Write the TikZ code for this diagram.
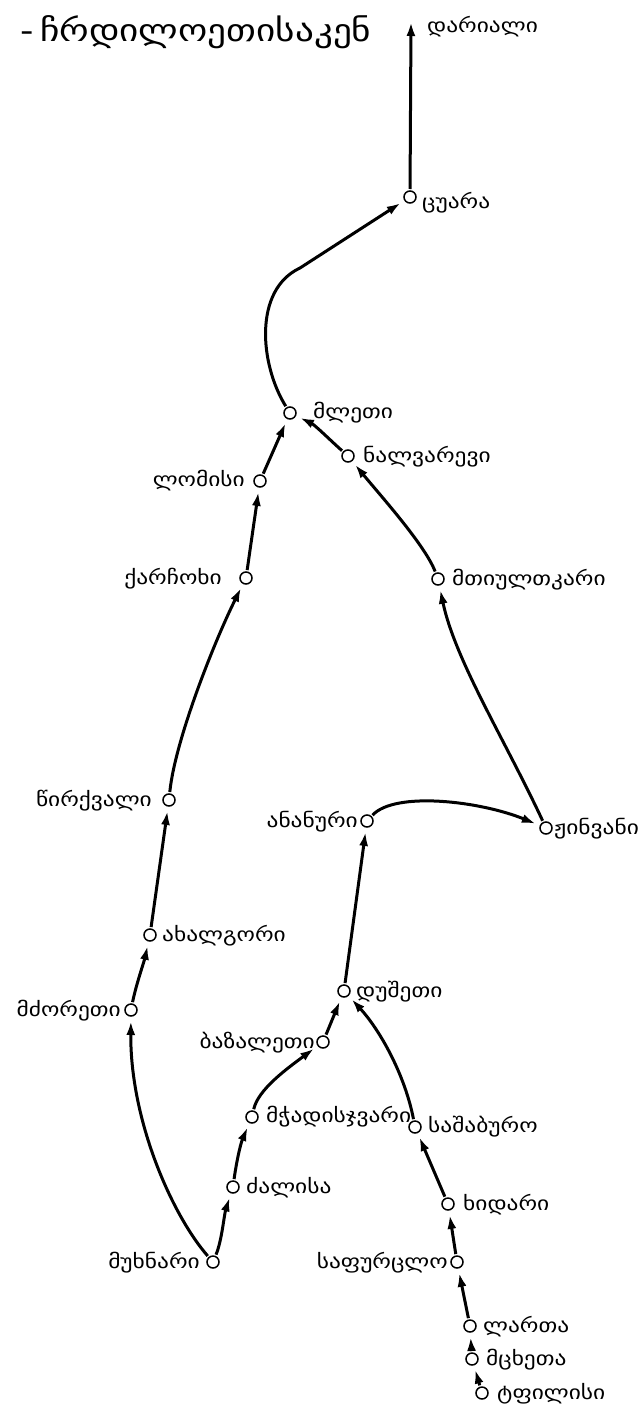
\documentclass[tikz,border=0pt]{standalone}
\usepackage{fontspec}
\newfontfamily\geo[FakeStretch=1.2]{DejaVu Sans}
\usetikzlibrary{arrows.meta}
\begin{document}
\begin{tikzpicture}[x=1pt,y=-1pt,
  site/.style={circle,draw,line width=1.5pt,minimum size=12pt,inner sep=0pt,outer sep=1pt},
  lab/.style={font=\geo\fontsize{19.5}{19.5}\selectfont,inner sep=0pt},
  ttl/.style={font=\geo\fontsize{31}{31}\selectfont,inner sep=0pt},
  road/.style={line width=3pt,-{Latex[length=14pt,width=9pt]},shorten >=4pt,shorten <=1pt},
]
\useasboundingbox (0,0) rectangle (641,1407);

% title
\node[ttl,anchor=base west] (title) at (40,42) {ჩრდილოეთისაკენ};
\node[ttl,anchor=base east] (titledash) at ([xshift=-6pt]title.base west) {-};

% sites
\coordinate (darialtip) at (411,22);
\node[site] (tsuara) at (410,197) {};
\node[site] (mleti)  at (290,413) {};
\node[site] (nalv)   at (348,456) {};
\node[site] (lomisi) at (260,481) {};
\node[site] (karch)  at (246,578) {};
\node[site] (mtiul)  at (438,579) {};
\node[site] (tsirk)  at (169,800) {};
\node[site] (anan)   at (367,821) {};
\node[site] (zhinv)  at (546,828) {};
\node[site] (akhal)  at (150,935) {};
\node[site] (dush)   at (344,991) {};
\node[site] (mdzor)  at (131,1010) {};
\node[site] (bazal)  at (323,1042) {};
\node[site] (mchad)  at (252,1117) {};
\node[site] (sasha)  at (415,1127) {};
\node[site] (dzal)   at (233,1187) {};
\node[site] (khid)   at (448,1204) {};
\node[site] (mukh)   at (213,1262) {};
\node[site] (sapur)  at (457,1262) {};
\node[site] (larta)  at (470,1326) {};
\node[site] (mtskh)  at (472,1359) {};
\node[site] (tpil)   at (482,1393) {};

% labels
\node[lab,anchor=base west] (l-darial) at (427,33)   {დარიალი};
\node[lab,anchor=base west] (l-tsuara) at (422,208)  {ცუარა};
\node[lab,anchor=base west] (l-mleti)  at (313,418)  {მლეთი};
\node[lab,anchor=base west] (l-nalv)   at (363,462)  {ნალვარევი};
\node[lab,anchor=base east] (l-lomisi) at (245,486)  {ლომისი};
\node[lab,anchor=base east] (l-karch)  at (222,584)  {ქარჩოხი};
\node[lab,anchor=base west] (l-mtiul)  at (452,585)  {მთიულთკარი};
\node[lab,anchor=base east] (l-tsirk)  at (152,806)  {წირქვალი};
\node[lab,anchor=base east] (l-anan)   at (358,827)  {ანანური};
\node[lab,anchor=base west] (l-zhinv)  at (554,834)  {ჟინვანი};
\node[lab,anchor=base west] (l-akhal)  at (162,941)  {ახალგორი};
\node[lab,anchor=base west] (l-dush)   at (356,997)  {დუშეთი};
\node[lab,anchor=base east] (l-mdzor)  at (121,1016) {მძორეთი};
\node[lab,anchor=base east] (l-bazal)  at (315,1048) {ბაზალეთი};
\node[lab,anchor=base west] (l-mchad)  at (266,1122) {მჭადისჯვარი};
\node[lab,anchor=base west] (l-sasha)  at (428,1132) {საშაბურო};
\node[lab,anchor=base west] (l-dzal)   at (246,1193) {ძალისა};
\node[lab,anchor=base west] (l-khid)   at (463,1210) {ხიდარი};
\node[lab,anchor=base east] (l-mukh)   at (200,1268) {მუხნარი};
\node[lab,anchor=base east] (l-sapur)  at (448,1268) {საფურცლო};
\node[lab,anchor=base west] (l-larta)  at (483,1332) {ლართა};
\node[lab,anchor=base west] (l-mtskh)  at (486,1365) {მცხეთა};
\node[lab,anchor=base west] (l-tpil)   at (497,1399) {ტფილისი};

% roads
\draw[road,shorten >=0pt] (tsuara) -- (darialtip);
\draw[road] (mleti) .. controls (260,365) and (253,290) .. (300,268) -- (tsuara);
\draw[road] (nalv) .. controls (330,440) and (315,425) .. (mleti);
\draw[road] (lomisi) -- (mleti);
\draw[road] (karch) -- (lomisi);
\draw[road] (mtiul) .. controls (425,545) and (380,495) .. (nalv);
\draw[road] (tsirk) .. controls (175,740) and (215,640) .. (karch);
\draw[road] (zhinv) .. controls (505,740) and (455,660) .. (mtiul);
\draw[road] (anan) .. controls (395,791) and (480,801) .. (zhinv);
\draw[road] (akhal) -- (tsirk);
\draw[road] (dush) -- (anan);
\draw[road] (mdzor) .. controls (136,985) and (144,962) .. (akhal);
\draw[road] (mukh) .. controls (172,1215) and (130,1120) .. (mdzor);
\draw[road] (mukh) .. controls (222,1240) and (224,1215) .. (dzal);
\draw[road] (dzal) .. controls (236,1165) and (240,1145) .. (mchad);
\draw[road] (mchad) .. controls (258,1090) and (285,1070) .. (bazal);
\draw[road] (bazal) -- (dush);
\draw[road] (sasha) .. controls (405,1075) and (380,1030) .. (dush);
\draw[road] (khid) -- (sasha);
\draw[road] (sapur) -- (khid);
\draw[road] (larta) -- (sapur);
\draw[road] (mtskh) -- (larta);
\draw[road] (tpil) -- (mtskh);
\end{tikzpicture}
\end{document}
